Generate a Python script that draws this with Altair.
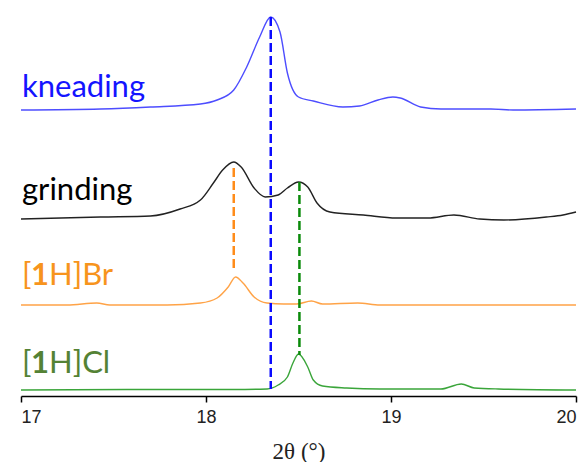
import altair as alt
import pandas as pd

# ---- data (2θ in degrees, intensity in arbitrary units) ----
series_names = ["kneading", "grinding", "[1H]Br", "[1H]Cl"]
series_offsets = [286, 177, 91, 6]

x_kneading = [17.00, 17.43, 17.70, 17.97, 18.06, 18.15, 18.22, 18.29, 18.35, 18.40,
              18.44, 18.50, 18.58, 18.74, 18.83, 18.93, 19.01, 19.05, 19.16, 19.27,
              19.54, 19.66, 20.00]
y_kneading = [0, 1, 3, 6, 10, 20, 43, 73, 93, 78, 37, 13, 9, 3, 4, 10, 13, 12, 3, 1,
              1, 0, 1]

x_grinding = [17.00, 17.43, 17.70, 17.86, 17.97, 18.04, 18.09, 18.15, 18.19, 18.26,
              18.32, 18.39, 18.44, 18.50, 18.55, 18.60, 18.67, 18.85, 19.03, 19.20,
              19.34, 19.48, 19.61, 19.84, 19.93, 20.00]
y_grinding = [0, 2, 3, 10, 19, 36, 49, 57, 52, 31, 22, 24, 31, 37, 32, 16, 7, 4, 1, 1,
              4, 0, -1, 2, 4, 7]

x_br = [17.00, 17.25, 17.41, 17.48, 17.79, 17.97, 18.06, 18.12, 18.16, 18.20, 18.26,
        18.33, 18.42, 18.49, 18.57, 18.63, 18.82, 18.94, 20.00]
y_br = [0, 0, 2, 0, 0, 2, 7, 18, 28, 22, 8, 2, 1, 1, 4, 1, 2, 0, 0]

x_cl = [17.00, 17.79, 18.15, 18.33, 18.39, 18.44, 18.47, 18.50, 18.55, 18.58, 18.63,
        18.76, 18.94, 19.27, 19.38, 19.45, 19.58, 20.00]
y_cl = [0, 0.5, 0.5, 1, 5, 13, 27, 36, 23, 10, 4, 2, 1, 1, 6, 2, 1, 0]

# reference peak markers (dashed)
marker_x = [18.35, 18.15, 18.505]
marker_top = [379, 228, 214]
marker_bottom = [7, 126, 41]
marker_colors = ["#0a0aff", "#ff8c1a", "#0a8a0a"]

line_colors = ["#4d4dff", "#222222", "#ffa347", "#3aa53a"]
text_colors = ["#1414ff", "#000000", "#f7941d", "#548235"]

tick_values = [17, 18, 19, 20]

# ---- build tables ----
xs = [x_kneading, x_grinding, x_br, x_cl]
ys = [y_kneading, y_grinding, y_br, y_cl]
rows = []
for name, off, xv, yv in zip(series_names, series_offsets, xs, ys):
    for i, (a, b) in enumerate(zip(xv, yv)):
        rows.append({"series": name, "x": a, "y": b + off, "order": i})
traces = pd.DataFrame(rows)

markers = pd.DataFrame({"x": marker_x, "y": marker_top, "y2": marker_bottom,
                        "color": marker_colors})

label_y = [299, 196, 111, 23]
plain_labels = pd.DataFrame({"text": series_names[:2], "x": [17.0, 17.0],
                             "y": label_y[:2], "color": text_colors[:2]})
br_open = pd.DataFrame({"text": ["[", "["], "x": [17.0, 17.0], "y": label_y[2:],
                        "color": text_colors[2:]})
br_one = pd.DataFrame({"text": ["1", "1"], "x": [17.0, 17.0], "y": label_y[2:],
                       "color": text_colors[2:]})
br_rest = pd.DataFrame({"text": ["H]Br", "H]Cl"], "x": [17.0, 17.0], "y": label_y[2:],
                        "color": text_colors[2:]})

xscale = alt.Scale(domain=[17, 20], nice=False)
yscale = alt.Scale(domain=[0, 388], nice=False, zero=False)

xaxis = alt.Axis(values=tick_values, format="d", title="2θ (°)", grid=False,
                 domainColor="#000000", domainWidth=1.5, tickColor="#000000",
                 tickWidth=1.5, tickSize=6, labelFont="Liberation Sans",
                 labelFontSize=18, labelColor="#222222", labelPadding=6,
                 titleFont="Liberation Serif", titleFontSize=23,
                 titleFontWeight="normal", titleColor="#222222", titlePadding=14)

lines = alt.Chart(traces).mark_line(strokeWidth=1.4, interpolate="monotone").encode(
    x=alt.X("x:Q", scale=xscale, axis=xaxis),
    y=alt.Y("y:Q", scale=yscale, axis=None),
    color=alt.Color("series:N", scale=alt.Scale(domain=series_names, range=line_colors),
                    legend=None),
    order="order:Q",
)

rules = alt.Chart(markers).mark_rule(strokeDash=[9, 4], strokeWidth=2.5).encode(
    x="x:Q", y="y:Q", y2="y2:Q", color=alt.Color("color:N", scale=None))

def text_layer(df, dx, weight="normal"):
    return alt.Chart(df).mark_text(align="left", baseline="alphabetic", font="Lato",
                                   fontSize=31, fontWeight=weight, dx=dx).encode(
        x="x:Q", y="y:Q", text="text:N", color=alt.Color("color:N", scale=None))

labels = (text_layer(plain_labels, 1) + text_layer(br_open, 1)
          + text_layer(br_one, 10, "bold") + text_layer(br_rest, 28))

chart = alt.layer(lines, rules, labels).properties(
    width=555, height=388,
    autosize=alt.AutoSizeParams(type="none"),
    padding={"left": 21, "top": 8, "right": 10, "bottom": 66},
).configure_view(stroke=None)

chart.save("out.html", embed_options={"renderer": "svg", "actions": False})
